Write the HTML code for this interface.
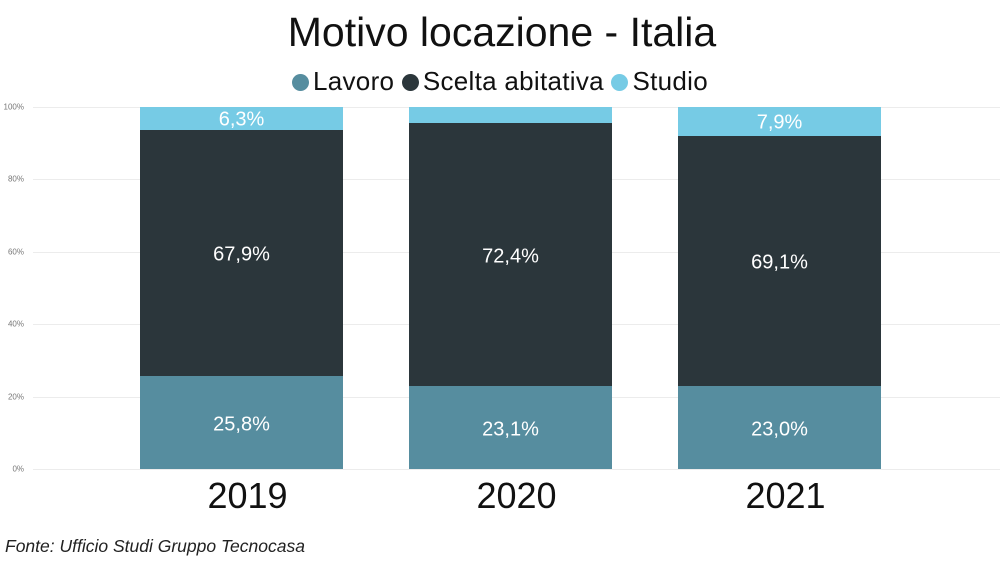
<!DOCTYPE html>
<html><head><meta charset="utf-8"><style>
body{margin:0;width:1004px;height:573px;background:#fff;overflow:hidden;position:relative;font-family:"Liberation Sans","DejaVu Sans",sans-serif}
.a{position:absolute;white-space:nowrap}
.g{position:absolute;left:33px;width:967px;height:1px;background:#ececec}
.yl{position:absolute;right:980px;font-size:8px;color:#777;transform:translateY(-50%)}
.b{position:absolute;width:203px}
.l{position:absolute;width:203px;text-align:center;color:#fff;font-size:20px;transform:translateY(-50%)}
.yr{position:absolute;width:203px;text-align:center;font-size:36px;color:#111;top:475px}
.d{display:inline-block;width:17px;height:17px;border-radius:50%;vertical-align:-1px;margin-right:4px}
</style></head><body>
<div class="a" style="left:0;width:1004px;text-align:center;top:9px;font-size:41px;color:#111">Motivo locazione - Italia</div>
<div class="a" style="left:0;width:1000px;text-align:center;top:66px;font-size:26px;color:#111;letter-spacing:0.3px"><span class="d" style="background:#568d9f"></span>Lavoro <span class="d" style="background:#2b363b"></span>Scelta abitativa <span class="d" style="background:#76cbe5"></span>Studio</div>
<div class="g" style="top:107px"></div><div class="g" style="top:179px"></div><div class="g" style="top:252px"></div><div class="g" style="top:324px"></div><div class="g" style="top:397px"></div><div class="g" style="top:469px"></div>
<div class="yl" style="top:107px">100%</div><div class="yl" style="top:179px">80%</div><div class="yl" style="top:252px">60%</div><div class="yl" style="top:324px">40%</div><div class="yl" style="top:397px">20%</div><div class="yl" style="top:469px">0%</div>

<div class="b" style="left:140px;top:107px;height:23px;background:#76cbe5"></div>
<div class="b" style="left:140px;top:130px;height:246px;background:#2b363b"></div>
<div class="b" style="left:140px;top:376px;height:93px;background:#568d9f"></div>
<div class="l" style="left:140px;top:120px">6,3%</div>
<div class="l" style="left:140px;top:255px">67,9%</div>
<div class="l" style="left:140px;top:425px">25,8%</div>

<div class="b" style="left:409px;top:107px;height:16px;background:#76cbe5"></div>
<div class="b" style="left:409px;top:123px;height:263px;background:#2b363b"></div>
<div class="b" style="left:409px;top:386px;height:83px;background:#568d9f"></div>
<div class="l" style="left:409px;top:257px">72,4%</div>
<div class="l" style="left:409px;top:430px">23,1%</div>

<div class="b" style="left:678px;top:107px;height:29px;background:#76cbe5"></div>
<div class="b" style="left:678px;top:136px;height:250px;background:#2b363b"></div>
<div class="b" style="left:678px;top:386px;height:83px;background:#568d9f"></div>
<div class="l" style="left:678px;top:123px">7,9%</div>
<div class="l" style="left:678px;top:263px">69,1%</div>
<div class="l" style="left:678px;top:430px">23,0%</div>

<div class="yr" style="left:146px">2019</div>
<div class="yr" style="left:415px">2020</div>
<div class="yr" style="left:684px">2021</div>
<div class="a" style="left:5px;top:536px;font-size:17.5px;font-style:italic;color:#222">Fonte: Ufficio Studi Gruppo Tecnocasa</div>
</body></html>
